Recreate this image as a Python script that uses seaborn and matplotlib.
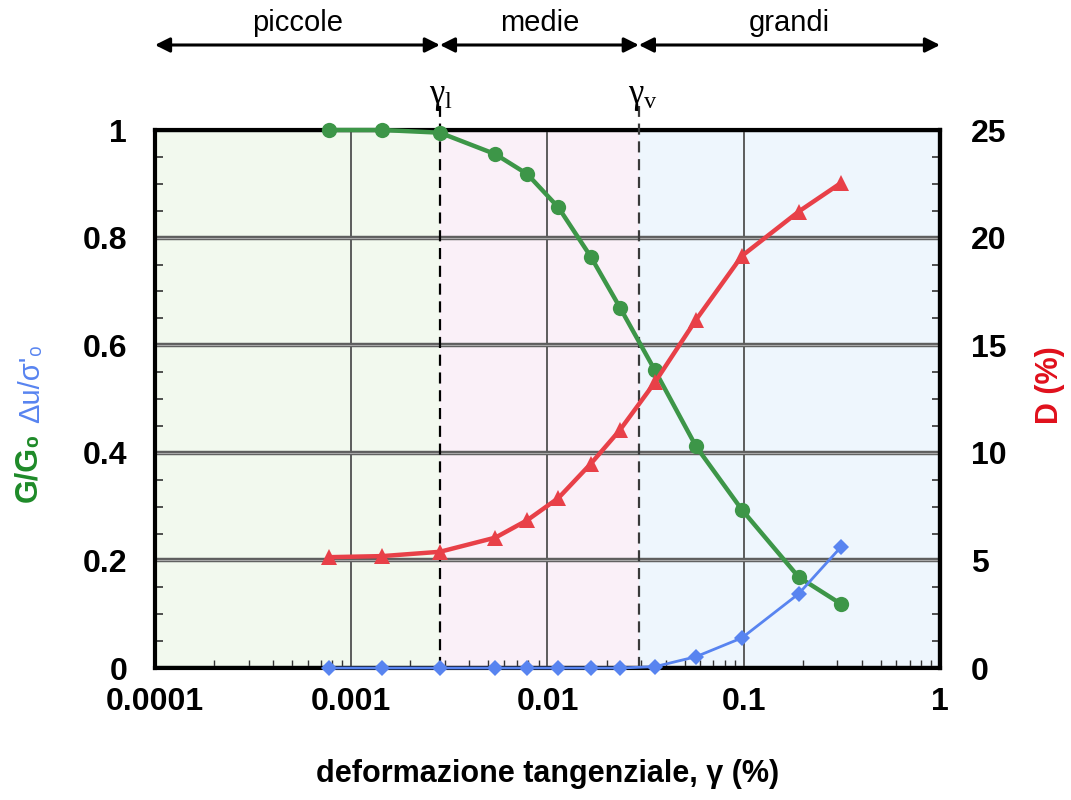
import numpy as np
import matplotlib
matplotlib.use("Agg")
import matplotlib.pyplot as plt
import matplotlib.ticker as mticker
import seaborn as sns

# shear strain (%) of each test step
strain = [0.00077, 0.00144, 0.00283, 0.00543, 0.00789, 0.01137, 0.01665,
          0.0234, 0.0353, 0.0571, 0.0979, 0.1905, 0.313]
# normalised shear modulus G/G0
g_ratio = [1.0, 1.0, 0.995, 0.955, 0.918, 0.856, 0.764, 0.670, 0.553,
           0.412, 0.294, 0.169, 0.119]
# pore pressure ratio du/sigma'0
du_ratio = [0.0, 0.0, 0.0, 0.0, 0.0, 0.0, 0.0, 0.0, 0.0025, 0.021, 0.056,
            0.138, 0.225]
# damping ratio D (%)
damping = [5.15, 5.2, 5.4, 6.06, 6.87, 7.9, 9.5, 11.06, 13.28, 16.18, 19.15,
           21.21, 22.54]

gamma_l = 0.00283
gamma_v = 0.0292
zones = ["piccole", "medie", "grandi"]
x_ticks = [0.0001, 0.001, 0.01, 0.1, 1]
x_ticklabels = ["0.0001", "0.001", "0.01", "0.1", "1"]

GREEN = "#3d9648"
RED = "#e84048"
BLUE = "#5884f0"

sns.set_theme(style="white")
plt.rcParams["font.family"] = ["Liberation Sans", "DejaVu Sans"]
plt.rcParams["text.color"] = "black"
plt.rcParams["xtick.color"] = "black"
plt.rcParams["ytick.color"] = "black"
plt.rcParams["axes.labelcolor"] = "black"
plt.rcParams["mathtext.fontset"] = "custom"
plt.rcParams["mathtext.rm"] = "Liberation Serif"
plt.rcParams["mathtext.it"] = "Liberation Serif:italic"

fig = plt.figure(figsize=(10.71, 8), dpi=100)
ax = fig.add_axes([0.1447, 0.165, 0.7330, 0.6725])
ax2 = ax.twinx()

ax.set_xscale("log")
ax.set_xlim(1e-4, 1)
ax.set_ylim(0, 1)
ax2.set_ylim(0, 25)

# coloured zones
ax.axvspan(1e-4, gamma_l, color="#f2f9ee", zorder=0.1, lw=0)
ax.axvspan(gamma_l, gamma_v, color="#faf0f8", zorder=0.1, lw=0)
ax.axvspan(gamma_v, 1, color="#eef6fd", zorder=0.1, lw=0)

# grid
ax.set_axisbelow(True)
ax.grid(axis="x", which="major", color="#505050", lw=1.3)
ax.grid(axis="y", which="major", color="#5e5e5e", lw=3.2)
for yv in np.arange(0.2, 1.0, 0.2):
    ax.axhline(yv, color="#a8a8a8", lw=0.8, zorder=0.6)

# thresholds
ax.axvline(gamma_l, 0, 1.045, color="black", lw=1.6, dashes=(5, 3), clip_on=False, zorder=3)
ax.axvline(gamma_v, 0, 1.045, color="#3a3a3a", lw=1.6, dashes=(5, 3), clip_on=False, zorder=3)
for gx, lab in [(gamma_l, r"$\mathrm{γ_l}$"), (gamma_v, r"$\mathrm{γ_v}$")]:
    ax.annotate(lab, xy=(gx, 1.062), xycoords=("data", "axes fraction"),
                xytext=(-8, 0), textcoords="offset points", ha="left", va="center",
                fontsize=25, annotation_clip=False)

# spines under the data marks
for a in (ax, ax2):
    for sp in a.spines.values():
        sp.set_linewidth(3)
        sp.set_color("black")
        sp.set_zorder(2.5)
for side in ("top", "bottom", "left"):
    ax2.spines[side].set_visible(False)

# data series
sns.lineplot(x=strain, y=g_ratio, ax=ax, color=GREEN, lw=3.2, marker="o",
             markersize=11, markeredgewidth=0, clip_on=False, zorder=4)
sns.lineplot(x=strain, y=du_ratio, ax=ax, color=BLUE, lw=2.0, marker="D",
             markersize=8, markeredgewidth=0, clip_on=False, zorder=5)
sns.lineplot(x=strain, y=damping, ax=ax2, color=RED, lw=3.2, marker="^",
             markersize=12, markeredgewidth=0, clip_on=False, zorder=4)

# zone arrows
bounds = [1e-4, gamma_l, gamma_v, 1]
for i, name in enumerate(zones):
    x0, x1 = bounds[i], bounds[i + 1]
    ax.annotate("", xy=(x1, 1.158), xytext=(x0, 1.158),
                xycoords=("data", "axes fraction"), annotation_clip=False,
                arrowprops=dict(arrowstyle="<|-|>", color="black", lw=2.2,
                                mutation_scale=22, shrinkA=0, shrinkB=0))
    xm = 10 ** ((np.log10(x0) + np.log10(x1)) / 2)
    ax.text(xm, 1.198, name, transform=ax.get_xaxis_transform(), ha="center",
            va="center", fontsize=21)

# ticks
ax.set_xticks(x_ticks)
ax.set_xticklabels(x_ticklabels)
ax.xaxis.set_minor_locator(mticker.LogLocator(base=10, subs=np.arange(2, 10)))
ax.xaxis.set_minor_formatter(mticker.NullFormatter())
ax.set_yticks(np.arange(0, 1.01, 0.2))
ax.set_yticklabels(["0", "0.2", "0.4", "0.6", "0.8", "1"])
ax.yaxis.set_minor_locator(mticker.MultipleLocator(0.05))
ax2.set_yticks(np.arange(0, 26, 5))
ax2.yaxis.set_minor_locator(mticker.MultipleLocator(1.25))

ax.tick_params(axis="x", which="major", length=0, pad=14, labelsize=23)
ax.tick_params(axis="x", which="minor", direction="in", length=6, width=1, color="#333333",
               bottom=True)
ax.tick_params(axis="y", which="major", length=0, pad=20, labelsize=23)
ax.tick_params(axis="y", which="minor", direction="in", length=6, width=1.2, color="#333333",
               left=True)
ax2.tick_params(axis="y", which="major", length=0, pad=22, labelsize=23)
ax2.tick_params(axis="y", which="minor", direction="in", length=6, width=1.2, color="#333333",
                right=True)
for lab in ax.get_xticklabels() + ax.get_yticklabels() + ax2.get_yticklabels():
    lab.set_fontweight("bold")

# axis labels
ax.set_xlabel("deformazione tangenziale, γ (%)", fontsize=22, fontweight="bold", labelpad=30)
fig.text(0.027, 0.416, "G/G₀", rotation=90, ha="center", va="center", color="#1e8a28",
         fontsize=22, fontweight="bold", family=["Liberation Sans", "DejaVu Sans"])
fig.text(0.029, 0.521, "Δu/σ'₀", rotation=90, ha="center", va="center", color=BLUE,
         fontsize=21, family=["Liberation Sans", "DejaVu Sans"])
fig.text(0.980, 0.519, "D (%)", rotation=90, ha="center", va="center", color="#e0101c",
         fontsize=22, fontweight="bold")

fig.savefig("out.png", dpi=100)
